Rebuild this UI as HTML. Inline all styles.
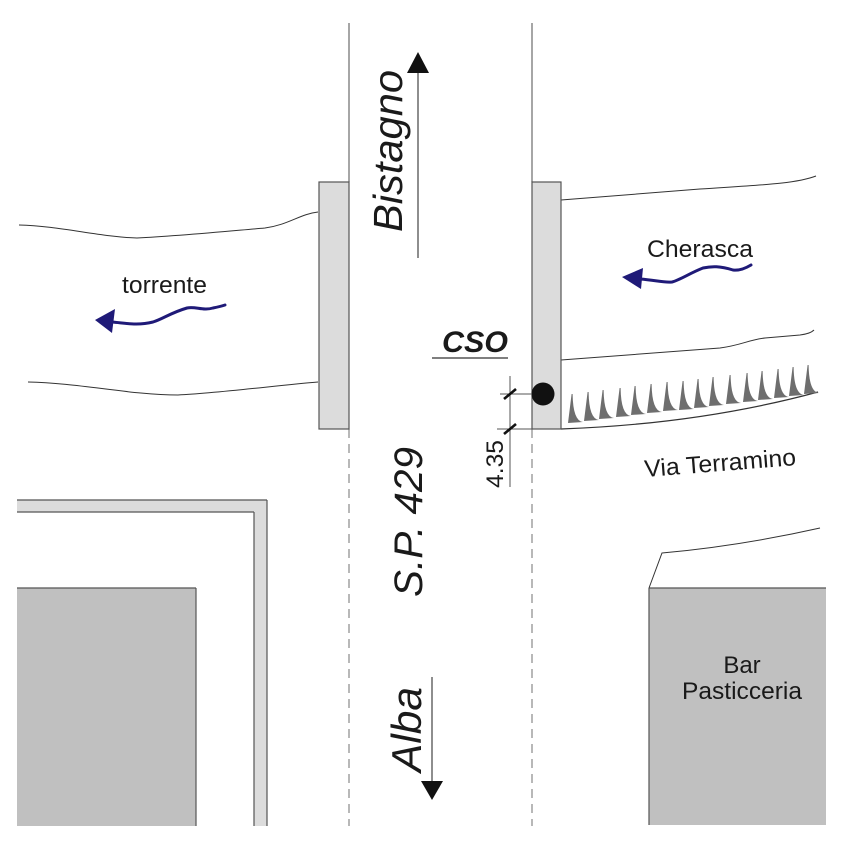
<!DOCTYPE html>
<html>
<head>
<meta charset="utf-8">
<style>
html,body{margin:0;padding:0;background:#fff;}
svg{display:block;}
text{font-family:"Liberation Sans",Arial,sans-serif;fill:#1a1a1a;}
</style>
</head>
<body>
<svg width="843" height="843" viewBox="0 0 843 843" xmlns="http://www.w3.org/2000/svg">
<rect width="843" height="843" fill="#fff"/>

<!-- left block (L band + building) -->
<path d="M17,500 L267,500 L267,826 L254,826 L254,512 L17,512 Z" fill="#dcdcdc"/>
<line x1="17" y1="500" x2="267" y2="500" stroke="#555" stroke-width="1.2"/>
<line x1="17" y1="512" x2="254" y2="512" stroke="#555" stroke-width="1.2"/>
<line x1="254" y1="512" x2="254" y2="826" stroke="#555" stroke-width="1.2"/>
<line x1="267" y1="500" x2="267" y2="826" stroke="#555" stroke-width="1.2"/>
<rect x="17" y="588" width="179" height="238" fill="#c0c0c0"/>
<line x1="17" y1="588" x2="196" y2="588" stroke="#555" stroke-width="1.2"/>
<line x1="196" y1="588" x2="196" y2="826" stroke="#555" stroke-width="1.2"/>

<!-- Bar building -->
<rect x="649" y="588" width="177" height="237" fill="#c0c0c0"/>
<line x1="649" y1="588" x2="826" y2="588" stroke="#555" stroke-width="1.2"/>
<line x1="649" y1="588" x2="649" y2="825" stroke="#555" stroke-width="1.2"/>
<path d="M649,588 L662,553 Q740,546 820,528" fill="none" stroke="#333" stroke-width="1"/>
<text x="742" y="673" font-size="24" text-anchor="middle">Bar</text>
<text x="742" y="699" font-size="24" text-anchor="middle" textLength="120" lengthAdjust="spacingAndGlyphs">Pasticceria</text>

<!-- road edges -->
<line x1="349" y1="23" x2="349" y2="182" stroke="#777" stroke-width="1.3"/>
<line x1="532" y1="23" x2="532" y2="182" stroke="#777" stroke-width="1.3"/>
<line x1="349" y1="429" x2="349" y2="826" stroke="#888" stroke-width="1.2" stroke-dasharray="9,6"/>
<line x1="532" y1="429" x2="532" y2="826" stroke="#888" stroke-width="1.2" stroke-dasharray="9,6"/>

<!-- river lines -->
<path d="M19,225 C60,226 100,237 137,238 C180,236 230,231 265,228 C288,225 300,214 318,212" fill="none" stroke="#333" stroke-width="1"/>
<path d="M28,382 C80,383 130,395 178,395 C220,393 280,385 318,382" fill="none" stroke="#333" stroke-width="1"/>
<path d="M561,200 L700,189 C760,185 795,184 816,176" fill="none" stroke="#333" stroke-width="1"/>
<path d="M561,360 L720,348 C742,345 748,340 765,338 L800,335 C808,334 812,332 814,330" fill="none" stroke="#333" stroke-width="1"/>
<path d="M561,429 Q700,424 818,392" fill="none" stroke="#333" stroke-width="1.2"/>

<!-- bridges -->
<rect x="319" y="182" width="30" height="247" fill="#dcdcdc" stroke="#555" stroke-width="1.2"/>
<rect x="532" y="182" width="29" height="247" fill="#dcdcdc" stroke="#555" stroke-width="1.2"/>

<!-- teeth -->
<g fill="#6e6e6e">
<path d="M568,423 L583,422 Q573,421 572.6,394 L571.6,394 Z"/>
<path d="M584,421 L599,420 Q589,419 588.6,392 L587.6,392 Z"/>
<path d="M599,419 L614,418 Q604,417 603.6,390 L602.6,390 Z"/>
<path d="M616,417 L631,416 Q621,415 620.6,388 L619.6,388 Z"/>
<path d="M631,415 L646,414 Q636,413 635.6,386 L634.6,386 Z"/>
<path d="M647,413 L662,412 Q652,411 651.6,384 L650.6,384 Z"/>
<path d="M663,411 L678,410 Q668,409 667.6,382 L666.6,382 Z"/>
<path d="M679,410 L694,409 Q684,408 683.6,381 L682.6,381 Z"/>
<path d="M694,408 L709,407 Q699,406 698.6,379 L697.6,379 Z"/>
<path d="M709,406 L724,405 Q714,404 713.6,377 L712.6,377 Z"/>
<path d="M726,404 L741,403 Q731,402 730.6,375 L729.6,375 Z"/>
<path d="M743,402 L758,401 Q748,400 747.6,373 L746.6,373 Z"/>
<path d="M758,400 L773,399 Q763,398 762.6,371 L761.6,371 Z"/>
<path d="M774,398 L789,397 Q779,396 778.6,369 L777.6,369 Z"/>
<path d="M789,396 L804,395 Q794,394 793.6,367 L792.6,367 Z"/>
<path d="M804,394 L819,393 Q809,392 808.6,365 L807.6,365 Z"/>
</g>

<!-- CSO -->
<text x="442" y="352" font-size="30" font-weight="bold" font-style="italic" textLength="66" lengthAdjust="spacingAndGlyphs">CSO</text>
<line x1="432" y1="358" x2="508" y2="358" stroke="#333" stroke-width="1.2"/>

<!-- circle -->
<circle cx="543" cy="394" r="11.5" fill="#111"/>

<!-- dimension -->
<line x1="510" y1="376" x2="510" y2="487" stroke="#555" stroke-width="1"/>
<line x1="500" y1="394" x2="532" y2="394" stroke="#555" stroke-width="1"/>
<line x1="497" y1="429" x2="532" y2="429" stroke="#555" stroke-width="1"/>
<line x1="504" y1="399" x2="516" y2="389" stroke="#111" stroke-width="2.6"/>
<line x1="504" y1="434" x2="516" y2="424" stroke="#111" stroke-width="2.6"/>
<text transform="translate(503,488) rotate(-90)" font-size="24" textLength="48" lengthAdjust="spacingAndGlyphs">4.35</text>

<!-- Bistagno -->
<text transform="translate(402,232) rotate(-90)" font-size="41" font-style="italic" textLength="162" lengthAdjust="spacingAndGlyphs">Bistagno</text>
<line x1="418" y1="70" x2="418" y2="258" stroke="#444" stroke-width="1.2"/>
<polygon points="418,52 407,73 429,73" fill="#111"/>

<!-- S.P. 429 -->
<text transform="translate(422,597) rotate(-90)" font-size="40" font-style="italic" textLength="150" lengthAdjust="spacingAndGlyphs">S.P. 429</text>

<!-- Alba -->
<text transform="translate(421,772) rotate(-90)" font-size="42" font-style="italic" textLength="85" lengthAdjust="spacingAndGlyphs">Alba</text>
<line x1="432" y1="677" x2="432" y2="783" stroke="#444" stroke-width="1.2"/>
<polygon points="421,781 443,781 432,800" fill="#111"/>

<!-- torrente -->
<text x="122" y="293" font-size="24" textLength="85" lengthAdjust="spacingAndGlyphs">torrente</text>
<path d="M112,322 C125,323 137,326 153,322 C163,319 170,313 187,308 C195,306 203,311 213,308 C218,307 222,306 225,305" fill="none" stroke="#1f1a78" stroke-width="3" stroke-linecap="round"/>
<polygon points="95,320 115,309 112,333" fill="#1f1a78"/>

<!-- Cherasca -->
<text x="647" y="257" font-size="24" textLength="106" lengthAdjust="spacingAndGlyphs">Cherasca</text>
<path d="M640,279 C655,280 664,283 672,282 C680,280 690,273 703,268 C712,266 720,266 733,270 C740,271 746,268 751,265" fill="none" stroke="#1f1a78" stroke-width="3" stroke-linecap="round"/>
<polygon points="622,277 643,268 641,289" fill="#1f1a78"/>

<!-- Via Terramino -->
<text transform="translate(645,477) rotate(-4.5)" font-size="24" textLength="152" lengthAdjust="spacingAndGlyphs">Via Terramino</text>
</svg>
</body>
</html>
